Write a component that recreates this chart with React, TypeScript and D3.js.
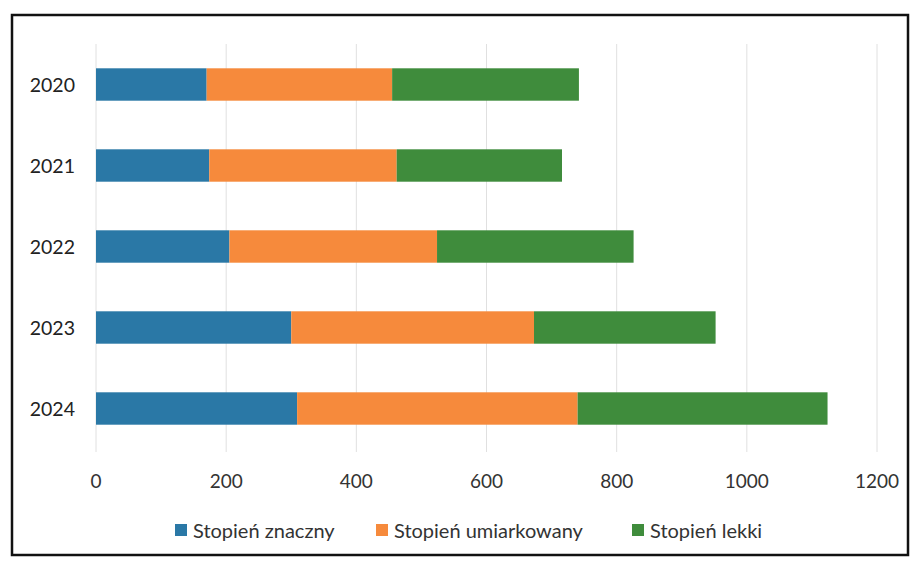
import React from 'react';
import * as d3 from 'd3';

const years = ['2020', '2021', '2022', '2023', '2024'];
const znaczny = [170, 174, 205, 300, 309];
const umiarkowany = [285, 288, 319, 373, 431];
const lekki = [287, 254, 302, 279, 384];
const xTicks = [0, 200, 400, 600, 800, 1000, 1200];

const seriesNames = ['Stopień znaczny', 'Stopień umiarkowany', 'Stopień lekki'];
const colors = ['#2a78a6', '#f68a3c', '#3f8c3c'];

const W = 916;
const H = 563;
const font = 'Lato, "Open Sans", sans-serif';

export default function App() {
  const x = d3.scaleLinear().domain([0, 1200]).range([96, 877]);
  const y = d3.scaleBand().domain(years).range([44, 449]).paddingInner(0.6).paddingOuter(0.3);

  const rows = years.map((yr, i) => ({ year: yr, a: znaczny[i], b: umiarkowany[i], c: lekki[i] }));
  const stack = d3.stack<any>().keys(['a', 'b', 'c'])(rows);

  const legendX = [175, 376, 632];

  return (
    <div style={{ position: 'absolute', left: 0, top: 0 }}>
      <svg width={W} height={H} style={{ display: 'block', background: '#fff' }}>
        <rect x={12} y={15} width={896} height={540} fill="#fff" stroke="#111" strokeWidth={2.5} />
        {xTicks.map(t => (
          <line key={t} x1={x(t)} x2={x(t)} y1={44} y2={452} stroke="#e0e0e0" strokeWidth={1} />
        ))}
        {stack.map((s, si) => (
          <g key={si} fill={colors[si]}>
            {s.map((d, i) => (
              <rect
                key={i}
                x={x(d[0])}
                width={x(d[1]) - x(d[0])}
                y={y(years[i])!}
                height={y.bandwidth()}
              />
            ))}
          </g>
        ))}
        {years.map(yr => (
          <text
            key={yr}
            x={75}
            y={y(yr)! + y.bandwidth() / 2}
            textAnchor="end"
            dominantBaseline="central"
            fontFamily={font}
            fontSize={19.5}
            fill="#222"
          >
            {yr}
          </text>
        ))}
        {xTicks.map(t => (
          <text
            key={t}
            x={x(t)}
            y={480}
            textAnchor="middle"
            dominantBaseline="central"
            fontFamily={font}
            fontSize={19}
            fill="#333"
          >
            {t}
          </text>
        ))}
        {seriesNames.map((n, i) => (
          <g key={n} transform={`translate(${legendX[i]},530)`}>
            <rect x={0} y={-6} width={12} height={12} fill={colors[i]} />
            <text x={18} y={0} dominantBaseline="central" fontFamily={font} fontSize={20} fill="#333">
              {n}
            </text>
          </g>
        ))}
      </svg>
    </div>
  );
}
